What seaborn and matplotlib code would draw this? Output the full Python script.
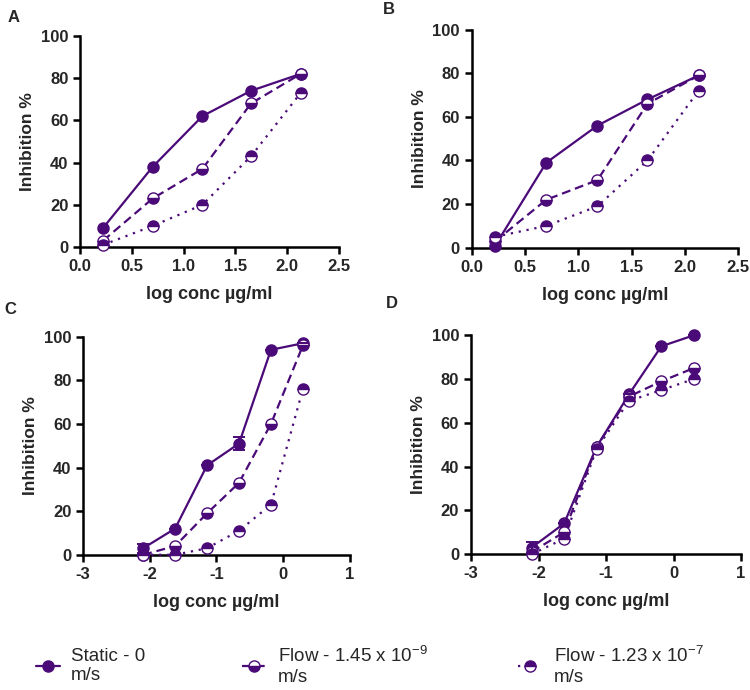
import numpy as np
import pandas as pd
import matplotlib
matplotlib.use('Agg')
import matplotlib.pyplot as plt
import seaborn as sns

sns.set_style('ticks')
plt.rcParams['font.family'] = ['Liberation Sans', 'DejaVu Sans']
plt.rcParams['font.weight'] = 'bold'
plt.rcParams['axes.labelweight'] = 'bold'
plt.rcParams['mathtext.default'] = 'regular'

PURPLE = '#4a0a78'

# ---- data ----
x_ab = [0.22, 0.70, 1.18, 1.65, 2.13]
x_cd = [-2.10, -1.62, -1.14, -0.66, -0.18, 0.30]

a_static = [9, 38, 62, 74, 82]
a_flow9 = [3, 23, 37, 68, 82]
a_flow7 = [1, 10, 20, 43, 73]

b_static = [1, 39, 56, 68, 79]
b_flow9 = [3, 22, 31, 66, 79]
b_flow7 = [5, 10, 19, 40, 72]

c_static = [3, 12, 41, 51, 94, 97]
c_static_err = [2, 0, 0, 3, 0, 0]
c_flow9 = [0, 4, 19, 33, 60, 96]
c_flow7 = [0, 0, 3, 11, 23, 76]

d_static = [3, 14, 49, 73, 95, 100]
d_static_err = [2.5, 0, 0, 0, 0, 0]
d_flow9 = [1, 10, 49, 72, 79, 85]
d_flow7 = [0, 7, 48, 70, 75, 80]

labels = ['Static - 0\nm/s',
          'Flow - 1.45 x 10$^{-9}$\nm/s',
          'Flow - 1.23 x 10$^{-7}$\nm/s']
styles = [('-', 'full'), ((0, (4, 2.2)), 'bottom'), ((0, (1, 2.6)), 'top')]

panels = [
    ('A', x_ab, [a_static, a_flow9, a_flow7], None, [0.107, 0.642, 0.345, 0.306],
     (0, 2.5), np.arange(0, 2.51, 0.5), '%.1f', (8, 22)),
    ('B', x_ab, [b_static, b_flow9, b_flow7], None, [0.629, 0.641, 0.355, 0.316],
     (0, 2.5), np.arange(0, 2.51, 0.5), '%.1f', (383, 14)),
    ('C', x_cd, [c_static, c_flow9, c_flow7], c_static_err, [0.111, 0.196, 0.355, 0.316],
     (-3, 1), np.arange(-3, 1.1, 1), '%d', (4, 314)),
    ('D', x_cd, [d_static, d_flow9, d_flow7], d_static_err, [0.628, 0.197, 0.360, 0.317],
     (-3, 1), np.arange(-3, 1.1, 1), '%d', (386, 308)),
]

fig = plt.figure(figsize=(7.5, 6.9), dpi=100)

handles = None
for letter, xs, series, err, rect, xlim, xticks, fmt, lpos in panels:
    ax = fig.add_axes(rect)
    for ys, lab, (ls, fs) in zip(series, labels, styles):
        df = pd.DataFrame({'x': xs, 'y': ys})
        sns.lineplot(data=df, x='x', y='y', ax=ax, color=PURPLE, errorbar=None,
                     linestyle=ls, linewidth=1.6, marker='o', markersize=8,
                     fillstyle=fs, markerfacecolor=PURPLE, markerfacecoloralt='white',
                     markeredgecolor=PURPLE, markeredgewidth=1.0, label=lab,
                     clip_on=False, zorder=3)
    if err is not None:
        ax.errorbar(xs, series[0], yerr=err, fmt='none', ecolor=PURPLE,
                    elinewidth=1.4, capsize=4, capthick=1.4, clip_on=False, zorder=3)
    if handles is None:
        handles, _ = ax.get_legend_handles_labels()
    ax.get_legend().remove()
    ax.set_xlim(*xlim)
    ax.set_ylim(0, 100)
    ax.set_xticks(xticks)
    ax.set_xticklabels([fmt % t for t in xticks])
    ax.set_yticks(np.arange(0, 101, 20))
    ax.set_xlabel('log conc µg/ml', fontsize=13, fontweight='bold', labelpad=9)
    ax.set_ylabel('Inhibition %', fontsize=12.5, fontweight='bold')
    ax.tick_params(labelsize=12, width=1.8, length=5, color='black')
    for t in ax.get_xticklabels() + ax.get_yticklabels():
        t.set_fontweight('bold')
    sns.despine(ax=ax)
    for s in ('left', 'bottom'):
        ax.spines[s].set_linewidth(1.8)
        ax.spines[s].set_color('black')
    fig.text(lpos[0] / 750, 1 - lpos[1] / 690, letter, fontsize=12,
             fontweight='bold', va='baseline')

# bottom legend, one entry per slot
legend_x = [0.025, 0.30, 0.668]
for h, lab, lx in zip(handles, labels, legend_x):
    fig.legend([h], [lab], loc='center left', bbox_to_anchor=(lx, 0.035),
               frameon=False, handlelength=1.3, handletextpad=0.6,
               prop={'size': 13.5, 'weight': 'normal'})

fig.savefig('out.png', dpi=100)
